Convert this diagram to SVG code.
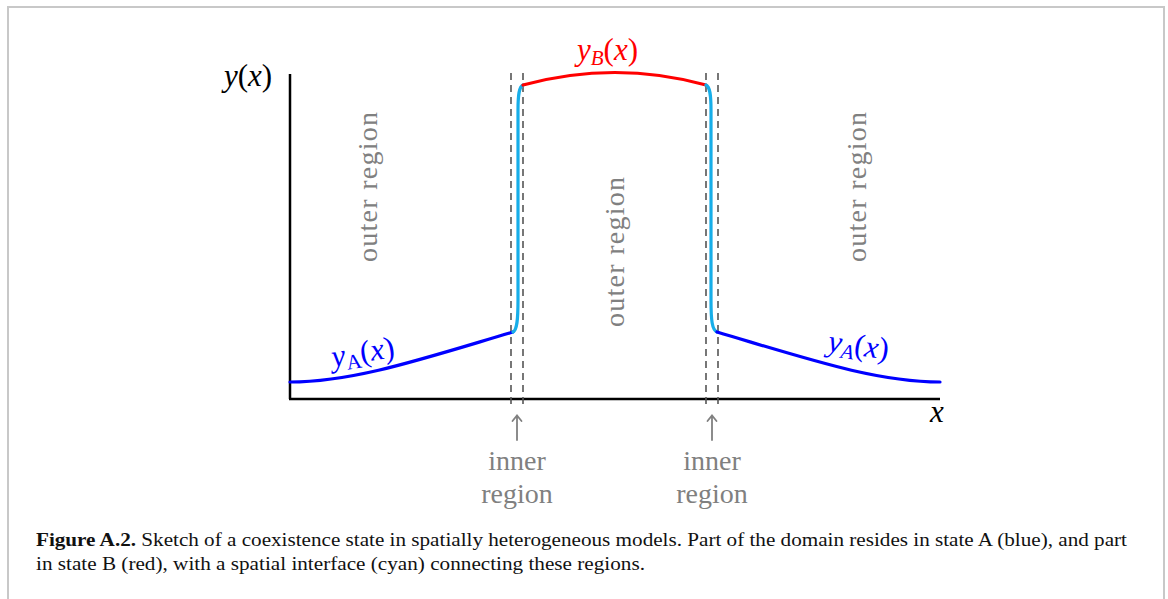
<svg xmlns="http://www.w3.org/2000/svg" width="1168" height="599" viewBox="0 0 1168 599">
<style>
.frame{fill:#fff;stroke:#c8c8c8;stroke-width:2}
.axis{stroke:#000;stroke-width:2.5;fill:none}
.dash{stroke:#555;stroke-width:1.6;stroke-dasharray:7,5;fill:none}
.blue{stroke:#0000ff;stroke-width:3.2;fill:none;stroke-linecap:round}
.red{stroke:#ff0000;stroke-width:3.2;fill:none;stroke-linecap:round}
.cyan{stroke:#17aee9;stroke-width:3.2;fill:none;stroke-linecap:round}
.arr{stroke:#808080;stroke-width:1.8;fill:none;stroke-linecap:round}
.gray{font-family:"Liberation Serif","DejaVu Serif",serif;font-size:28px;fill:#808080}
.math{font-family:"Liberation Serif","DejaVu Serif",serif;font-size:31px}
.it{font-style:italic}
.cap{font-family:"Liberation Serif","DejaVu Serif",serif;font-size:18px;fill:#111}
</style>
<rect class="frame" x="8" y="7" width="1156" height="600"/>

<g id="axes">
<line class="axis" x1="290" y1="74" x2="290" y2="399"/>
<line class="axis" x1="289" y1="399" x2="940" y2="399"/>
<text class="math it" x="224" y="86">y<tspan font-style="normal">(</tspan>x<tspan font-style="normal">)</tspan></text>
<text class="math it" x="930" y="422">x</text>
</g>

<g id="connectors">
<line class="dash" x1="511" y1="73" x2="511" y2="408"/>
<line class="dash" x1="523" y1="73" x2="523" y2="408"/>
<line class="dash" x1="706" y1="73" x2="706" y2="408"/>
<line class="dash" x1="718" y1="73" x2="718" y2="408"/>
<path class="arr" d="M517,440 L517,416 M512.5,421 L517,415.5 L521.5,421"/>
<path class="arr" d="M712,440 L712,416 M707.5,421 L712,415.5 L716.5,421"/>
</g>

<g id="curveA-left">
<path class="blue" d="M290,382 C355,382 425,358 513,332"/>
<text class="math it" fill="#0000ff" transform="translate(333,367) rotate(-9)">y<tspan font-size="21" dy="5" font-style="normal">A</tspan><tspan dy="-5" font-style="normal">(</tspan>x<tspan font-style="normal">)</tspan></text>
</g>
<g id="interface-left">
<path class="cyan" d="M513,332 C517,330 518,320 518,300 L518,110 C518,95 519,87 523,85"/>
</g>
<g id="curveB">
<path class="red" d="M523,85 Q615,60 706,85"/>
<text class="math it" fill="#ff0000" x="577" y="60">y<tspan font-size="21" dy="5">B</tspan><tspan dy="-5" font-style="normal">(</tspan>x<tspan font-style="normal">)</tspan></text>
</g>
<g id="interface-right">
<path class="cyan" d="M706,85 C710,87 711,95 711,110 L711,300 C711,320 712,330 717,332"/>
</g>
<g id="curveA-right">
<path class="blue" d="M717,332 C805,358 875,382 940,382"/>
<text class="math it" fill="#0000ff" transform="translate(827,351) rotate(8)">y<tspan font-size="21" dy="5">A</tspan><tspan dy="-5" font-style="normal">(</tspan>x<tspan font-style="normal">)</tspan></text>
</g>

<g id="outer-left">
<text class="gray" text-anchor="middle" textLength="150" transform="translate(377,187) rotate(-90)">outer region</text>
</g>
<g id="outer-middle">
<text class="gray" text-anchor="middle" textLength="150" transform="translate(624,252) rotate(-90)">outer region</text>
</g>
<g id="outer-right">
<text class="gray" text-anchor="middle" textLength="150" transform="translate(866,187) rotate(-90)">outer region</text>
</g>

<g id="inner-left">
<text class="gray" text-anchor="middle" x="517" y="470">inner</text>
<text class="gray" text-anchor="middle" x="517" y="503">region</text>
</g>
<g id="inner-right">
<text class="gray" text-anchor="middle" x="712" y="470">inner</text>
<text class="gray" text-anchor="middle" x="712" y="503">region</text>
</g>

<g id="caption">
<text class="cap" x="36" y="546" textLength="1091" lengthAdjust="spacingAndGlyphs"><tspan font-weight="bold">Figure A.2.</tspan> Sketch of a coexistence state in spatially heterogeneous models. Part of the domain resides in state A (blue), and part</text>
<text class="cap" x="36" y="570" textLength="609" lengthAdjust="spacingAndGlyphs">in state B (red), with a spatial interface (cyan) connecting these regions.</text>
</g>
</svg>
